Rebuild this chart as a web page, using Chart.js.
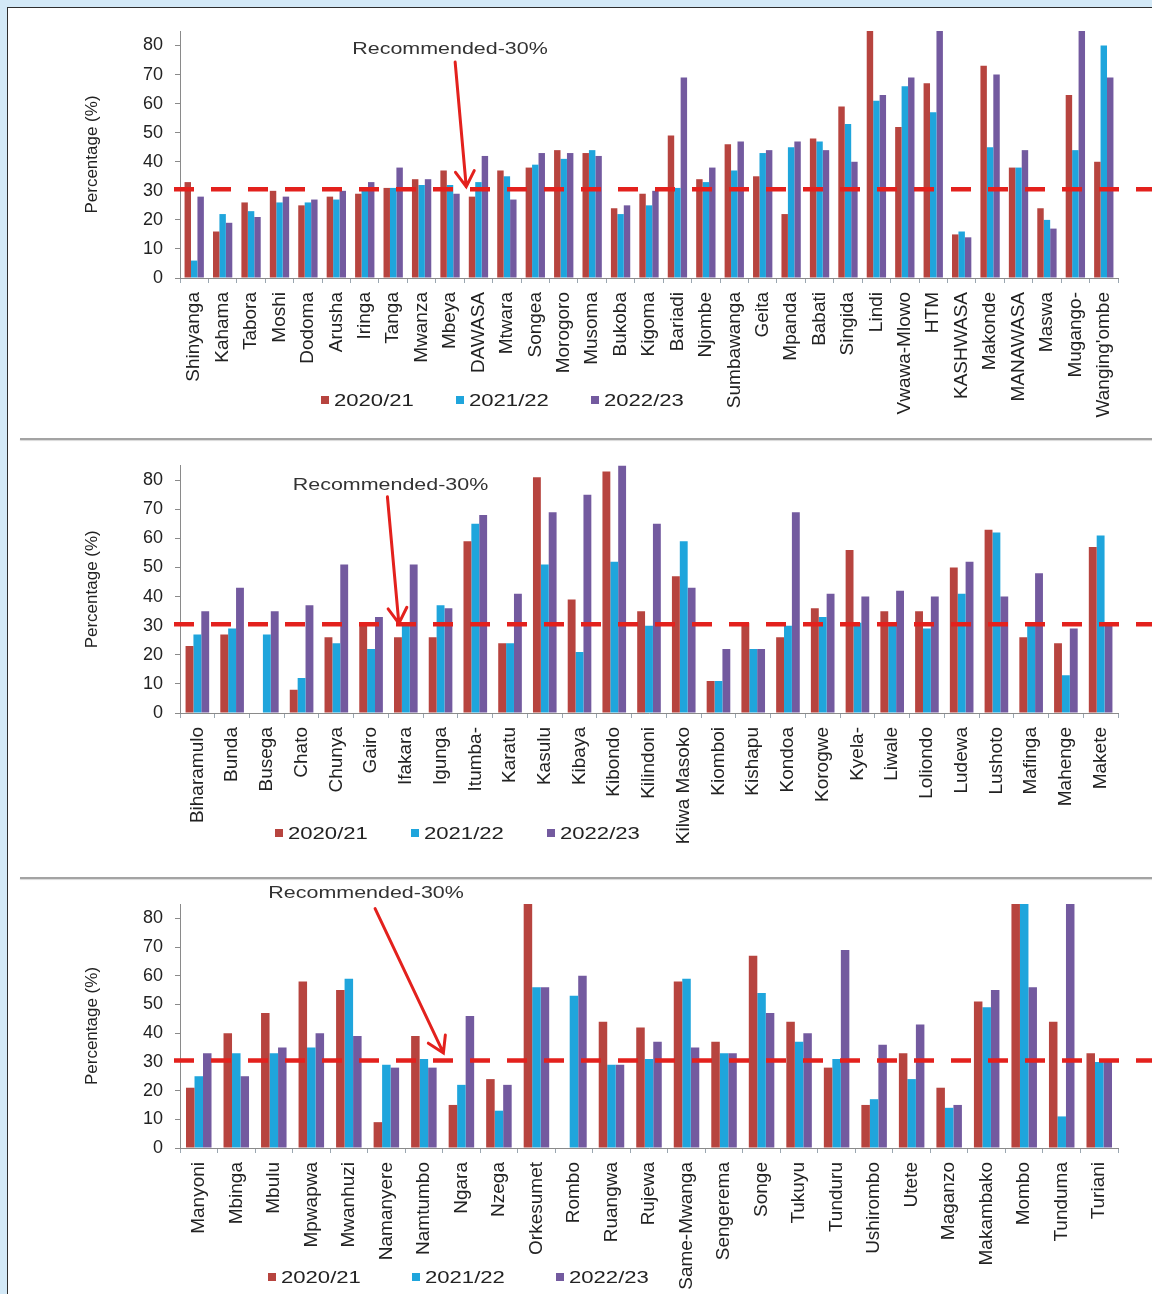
<!DOCTYPE html>
<html>
<head>
<meta charset="utf-8">
<script src="https://cdn.jsdelivr.net/npm/chart.js@4.4.1/dist/chart.umd.min.js"></script>
<style>
  html, body { margin: 0; padding: 0; }
  body { width: 1152px; height: 1294px; background: #d3e9f7; position: relative; overflow: hidden; }
  #frame { position: absolute; left: 7px; top: 7px; width: 1160px; height: 1300px; background: #fff;
           border-top: 1px solid #2e2e2e; border-left: 1px solid #2e2e2e; }
  .panel { position: absolute; left: 8px; }
  .sep { position: absolute; left: 20px; width: 1140px; height: 2px; background: #a3a3a3;
         box-shadow: 0 1px 1px #d9d9d9; }
</style>
</head>
<body>
<div id="frame"></div>
<div class="panel" style="top:8px"><canvas id="chart1" width="1144" height="430"></canvas></div>
<div class="sep" style="top:438px"></div>
<div class="panel" style="top:441px"><canvas id="chart2" width="1144" height="434"></canvas></div>
<div class="sep" style="top:877px"></div>
<div class="panel" style="top:880px"><canvas id="chart3" width="1144" height="414"></canvas></div>

<script>
// legend entries and y axis ticks
var seasons = ['2020/21', '2021/22', '2022/23'];
var yTicks = [0, 10, 20, 30, 40, 50, 60, 70, 80];
var recommended = 30.5;

// panel 1
var names1 = ['Shinyanga', 'Kahama', 'Tabora', 'Moshi', 'Dodoma', 'Arusha', 'Iringa', 'Tanga', 'Mwanza', 'Mbeya',
  'DAWASA', 'Mtwara', 'Songea', 'Morogoro', 'Musoma', 'Bukoba', 'Kigoma', 'Bariadi', 'Njombe', 'Sumbawanga',
  'Geita', 'Mpanda', 'Babati', 'Singida', 'Lindi', 'Vwawa-Mlowo', 'HTM', 'KASHWASA', 'Makonde', 'MANAWASA',
  'Maswa', 'Mugango-', "Wanging'ombe"];
var p1y2021 = [33, 16, 26, 30, 25, 28, 29, 31, 34, 37, 28, 37, 38, 44, 43, 24, 29, 49, 34, 46, 35, 22, 48, 59, 85, 52, 67, 15, 73, 38, 24, 63, 40];
var p1y2122 = [6, 22, 23, 26, 26, 27, 30, 31, 32, 32, 33, 35, 39, 41, 44, 22, 25, 31, 33, 37, 43, 45, 47, 53, 61, 66, 57, 16, 45, 38, 20, 44, 80];
var p1y2223 = [28, 19, 21, 28, 27, 30, 33, 38, 34, 29, 42, 27, 43, 43, 42, 25, 30, 69, 38, 47, 44, 47, 44, 40, 63, 69, 85, 14, 70, 44, 17, 85, 69];

// panel 2
var names2 = ['Biharamulo', 'Bunda', 'Busega', 'Chato', 'Chunya', 'Gairo', 'Ifakara', 'Igunga', 'Itumba-', 'Karatu',
  'Kasulu', 'Kibaya', 'Kibondo', 'Kilindoni', 'Kilwa Masoko', 'Kiomboi', 'Kishapu', 'Kondoa', 'Korogwe', 'Kyela-',
  'Liwale', 'Loliondo', 'Ludewa', 'Lushoto', 'Mafinga', 'Mahenge', 'Makete'];
var p2y2021 = [23, 27, null, 8, 26, 31, 26, 26, 59, 24, 81, 39, 83, 35, 47, 11, 31, 26, 36, 56, 35, 35, 50, 63, 26, 24, 57];
var p2y2122 = [27, 29, 27, 12, 24, 22, 31, 37, 65, 24, 51, 21, 52, 30, 59, 11, 22, 30, 33, 31, 31, 29, 41, 62, 30, 13, 61];
var p2y2223 = [35, 43, 35, 37, 51, 33, 51, 36, 68, 41, 69, 75, 85, 65, 43, 22, 22, 69, 41, 40, 42, 40, 52, 40, 48, 29, 31];

// panel 3
var names3 = ['Manyoni', 'Mbinga', 'Mbulu', 'Mpwapwa', 'Mwanhuzi', 'Namanyere', 'Namtumbo', 'Ngara', 'Nzega', 'Orkesumet',
  'Rombo', 'Ruangwa', 'Rujewa', 'Same-Mwanga', 'Sengerema', 'Songe', 'Tukuyu', 'Tunduru', 'Ushirombo', 'Utete',
  'Maganzo', 'Makambako', 'Mombo', 'Tunduma', 'Turiani'];
var p3y2021 = [21, 40, 47, 58, 55, 9, 39, 15, 24, 85, null, 44, 42, 58, 37, 67, 44, 28, 15, 33, 21, 51, 85, 44, 33];
var p3y2122 = [25, 33, 33, 35, 59, 29, 31, 22, 13, 56, 53, 29, 31, 59, 33, 54, 37, 31, 17, 24, 14, 49, 85, 11, 30];
var p3y2223 = [33, 25, 35, 40, 39, 28, 28, 46, 22, 56, 60, 29, 37, 35, 33, 47, 40, 69, 36, 43, 15, 55, 56, 85, 30];

var colors = ['#b7443f', '#1fa5dc', '#735a9f'];
var FONT = '"Liberation Sans", Arial, sans-serif';

Chart.defaults.font.family = FONT;
Chart.defaults.color = '#222';

// dashed 30% line, arrow, note and legend
var refLine = {
  id: 'refLine',
  afterDatasetsDraw: function (chart, args, o) {
    var ctx = chart.ctx, xs = chart.scales.x, ys = chart.scales.y;
    var yy = ys.getPixelForValue(recommended);
    ctx.save();
    ctx.strokeStyle = '#e3211d';
    ctx.lineWidth = 4.5;
    ctx.setLineDash([20, 17]);
    ctx.beginPath();
    ctx.moveTo(chart.chartArea.left - 6, yy);
    ctx.lineTo(chart.width, yy);
    ctx.stroke();
    ctx.restore();
  },
  afterDraw: function (chart, args, o) {
    var ctx = chart.ctx, xs = chart.scales.x, ys = chart.scales.y;
    ctx.save();
    // arrow
    var x0 = xs.getPixelForValue(o.from[0]), y0 = ys.getPixelForValue(o.from[1]);
    var x1 = xs.getPixelForValue(o.to[0]), y1 = ys.getPixelForValue(o.to[1]);
    ctx.strokeStyle = '#e3211d';
    ctx.lineWidth = 3;
    ctx.lineCap = 'round';
    ctx.beginPath();
    ctx.moveTo(x0, y0);
    ctx.lineTo(x1, y1);
    var a = Math.atan2(y1 - y0, x1 - x0);
    ctx.moveTo(x1 - 18 * Math.cos(a - 0.55), y1 - 18 * Math.sin(a - 0.55));
    ctx.lineTo(x1, y1);
    ctx.lineTo(x1 - 18 * Math.cos(a + 0.55), y1 - 18 * Math.sin(a + 0.55));
    ctx.stroke();

    // note text
    ctx.save();
    ctx.translate(xs.getPixelForValue(o.text[0]), ys.getPixelForValue(o.text[1]));
    ctx.scale(1.3, 1);
    ctx.font = '16.5px ' + FONT;
    ctx.fillStyle = '#333';
    ctx.textAlign = 'center';
    ctx.textBaseline = 'middle';
    ctx.fillText('Recommended-' + 30 + '%', 0, 0);
    ctx.restore();

    // legend
    chart.data.datasets.forEach(function (ds, i) {
      var lx = o.legend[0] + i * o.legend[2], ly = o.legend[1];
      ctx.fillStyle = ds.backgroundColor;
      ctx.fillRect(lx, ly - 4, 8, 8);
      ctx.save();
      ctx.translate(lx + 13, ly);
      ctx.scale(1.3, 1);
      ctx.font = '17px ' + FONT;
      ctx.fillStyle = '#222';
      ctx.textAlign = 'left';
      ctx.textBaseline = 'middle';
      ctx.fillText(ds.label, 0, 1);
      ctx.restore();
    });
    ctx.restore();
  }
};

function drawPanel(id, names, series, cfg) {
  return new Chart(document.getElementById(id), {
    type: 'bar',
    data: {
      labels: names,
      datasets: series.map(function (vals, i) {
        return {
          label: seasons[i],
          data: vals,
          backgroundColor: colors[i],
          borderWidth: 0,
          categoryPercentage: 0.68,
          barPercentage: 1.0
        };
      })
    },
    options: {
      responsive: false,
      animation: false,
      layout: { padding: { top: cfg.top, right: 34, bottom: 0, left: 0 } },
      plugins: {
        legend: { display: false },
        tooltip: { enabled: false },
        refLine: cfg
      },
      scales: {
        x: {
          grid: { display: true, drawOnChartArea: false, tickLength: 5, color: '#9aa6b0', offset: true },
          border: { color: '#8a8a8a', width: 1 },
          ticks: { autoSkip: false, minRotation: 90, maxRotation: 90, padding: 9, color: '#222',
                   font: { size: 19 } },
          afterFit: function (s) { s.height = cfg.xHeight; }
        },
        y: {
          min: 0,
          max: 85,
          grid: { display: true, drawOnChartArea: false, tickLength: 5, color: '#8a8a8a' },
          border: { color: '#8a8a8a', width: 1 },
          ticks: { padding: 12, color: '#222', font: { size: 18 } },
          title: { display: true, text: 'Percentage (%)', color: '#222', font: { size: 17 },
                   padding: { top: 74, bottom: 0 } },
          afterBuildTicks: function (s) { s.ticks = yTicks.map(function (v) { return { value: v }; }); },
          afterFit: function (s) { s.width = 172; }
        }
      }
    },
    plugins: [refLine]
  });
}

drawPanel('chart1', names1, [p1y2021, p1y2122, p1y2223], {
  top: 23, xHeight: 160,
  text: [9.0, 78.5], from: [9.18, 74.3], to: [9.57, 31.4],
  legend: [313, 392, 135]
});
drawPanel('chart2', names2, [p2y2021, p2y2122, p2y2223], {
  top: 24.6, xHeight: 162,
  text: [5.56, 78.3], from: [5.47, 74.3], to: [5.80, 30.8],
  legend: [267, 392, 136]
});
drawPanel('chart3', names3, [p3y2021, p3y2122, p3y2223], {
  top: 24, xHeight: 146,
  text: [4.46, 88.7], from: [4.7, 83.4], to: [6.52, 33.1],
  legend: [260, 397, 144]
});
</script>
</body>
</html>
